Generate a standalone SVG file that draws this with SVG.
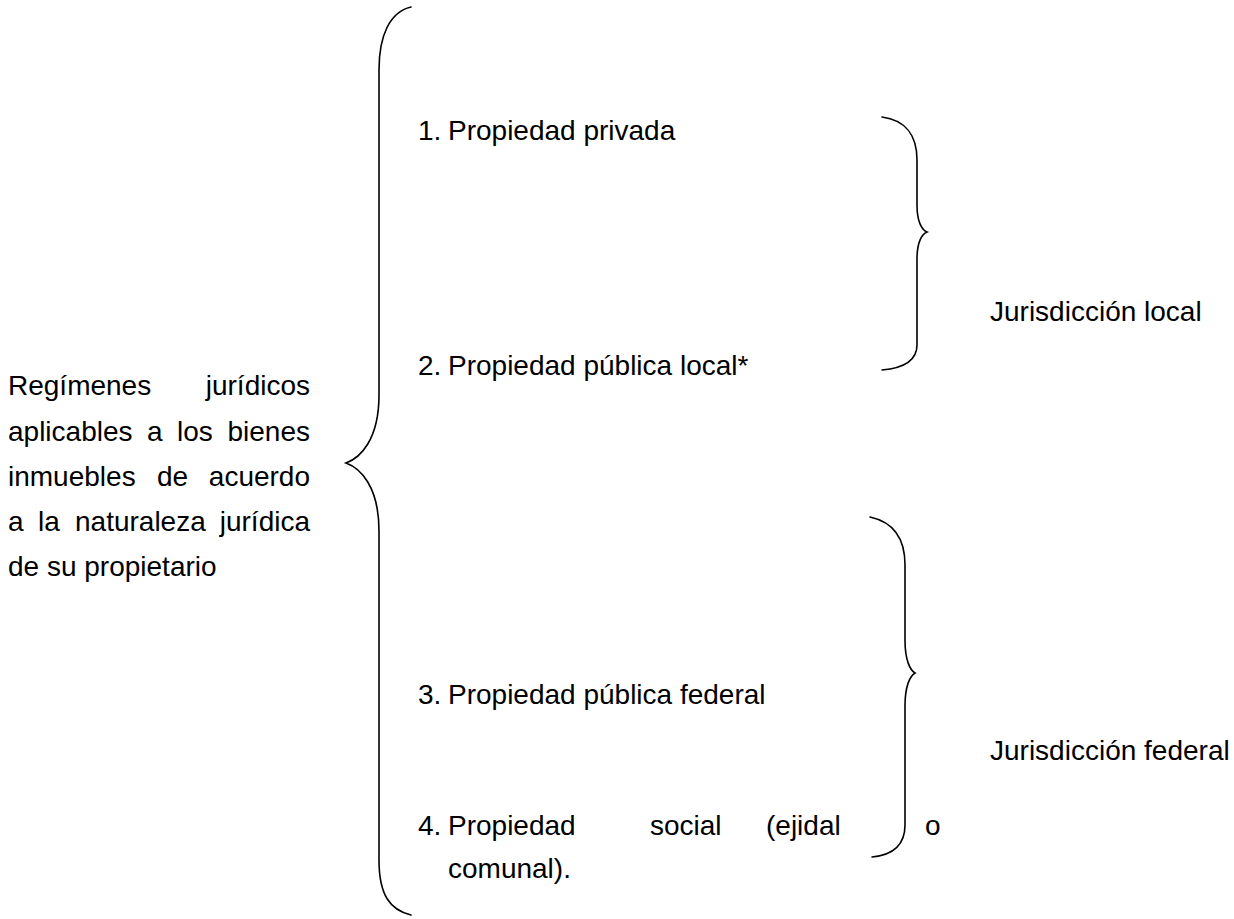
<svg xmlns="http://www.w3.org/2000/svg" width="1234" height="919" viewBox="0 0 1234 919">
<style>
.t{font-family:"Liberation Sans",Arial,sans-serif;font-size:28px;fill:#000}
.e{text-anchor:end}
.br{fill:none;stroke:#000;stroke-width:1.6;stroke-linecap:round}
</style>
<rect width="1234" height="919" fill="#fff"/>
<g id="root">
<text class="t" x="8" y="395">Regímenes</text><text class="t e" x="310" y="395">jurídicos</text>
<text class="t" x="8" y="441">aplicables</text><text class="t" x="147" y="441">a</text><text class="t" x="177" y="441">los</text><text class="t e" x="310" y="441">bienes</text>
<text class="t" x="8" y="486">inmuebles</text><text class="t" x="157" y="486">de</text><text class="t e" x="310" y="486">acuerdo</text>
<text class="t" x="8" y="531">a</text><text class="t" x="38" y="531">la</text><text class="t" x="75" y="531">naturaleza</text><text class="t e" x="310" y="531">jurídica</text>
<text class="t" x="8" y="576">de su propietario</text>
</g>
<g id="item1"><text class="t" x="418" y="140">1.</text><text class="t" x="448" y="140">Propiedad privada</text></g>
<g id="item2"><text class="t" x="418" y="375">2.</text><text class="t" x="448" y="375">Propiedad pública local*</text></g>
<g id="item3"><text class="t" x="418" y="704">3.</text><text class="t" x="448" y="704">Propiedad pública federal</text></g>
<g id="item4"><text class="t" x="418" y="835">4.</text><text class="t" x="448" y="835">Propiedad</text><text class="t" x="650" y="835">social</text><text class="t" x="766" y="835">(ejidal</text><text class="t" x="925" y="835">o</text>
<text class="t" x="448" y="878">comunal).</text></g>
<g id="local"><text class="t" x="990" y="321">Jurisdicción local</text></g>
<g id="federal"><text class="t" x="990" y="760">Jurisdicción federal</text></g>
<g id="connectors">
<path class="br" d="M411,7 C390,12 379,35 379,70 L379,395 C379,440 360,458 346,463 C360,468 379,486 379,531 L379,860 C379,895 390,910 411,915"/>
<path class="br" d="M882,117 C905,120 917,135 917,160 L917,205 C917,222 922,230 927,232 C922,234 917,242 917,259 L917,345 C917,360 905,368 882,370"/>
<path class="br" d="M870,517 C893,522 905,537 905,565 L905,640 C905,660 910,670 915,673 C910,676 905,686 905,706 L905,825 C905,845 893,855 872,857"/>
</g>
</svg>
